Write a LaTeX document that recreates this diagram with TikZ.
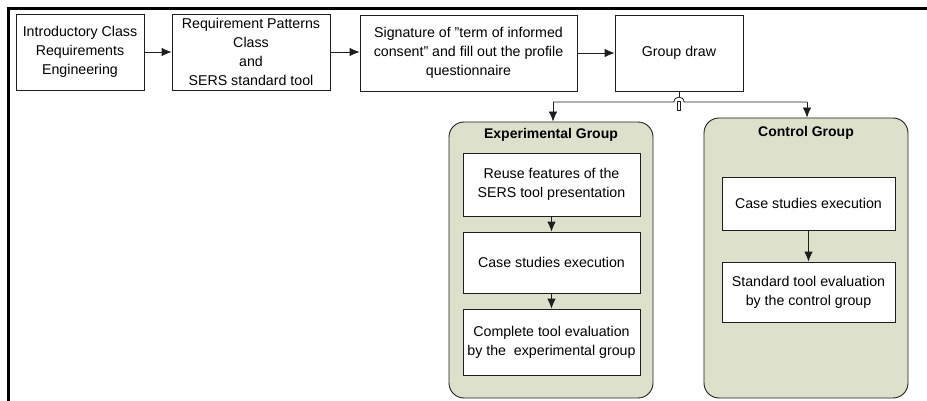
\documentclass[tikz,border=0pt]{standalone}
\usepackage{fontspec}
\setmainfont{Liberation Sans}
\usetikzlibrary{arrows.meta}
\definecolor{grpfill}{RGB}{221,224,203}
\definecolor{edge}{RGB}{30,30,30}
\tikzset{
  pbox/.style={draw=edge, line width=0.8pt, fill=white, rectangle, align=center, inner sep=1pt,
    font=\fontsize{14.2}{19}\selectfont},
  grp/.style={draw=edge, line width=0.9pt, fill=grpfill, rectangle, rounded corners=15pt},
  gtitle/.style={font=\fontsize{14}{17}\selectfont\bfseries, inner sep=0pt},
  arr/.style={draw=edge, line width=0.8pt, -{Latex[length=10pt,width=8.5pt]}},
  conn/.style={draw=edge, line width=0.8pt},
  frame/.style={line width=3pt, black}
}
\begin{document}
\begin{tikzpicture}[x=1pt,y=-1pt]
\useasboundingbox (0,0) rectangle (927,401);
% frame (top and left)
\draw[frame] (8,401) -- (8,9) -- (927,9);
% top row
\node[pbox, minimum width=128pt, minimum height=76pt] (intro) at (80,52) {Introductory Class\\Requirements\\Engineering};
\node[pbox, minimum width=158pt, minimum height=76pt] (patt) at (251,52) {Requirement Patterns\\Class\\and\\SERS standard tool};
\node[pbox, minimum width=217pt, minimum height=76pt] (sig) at (468.5,53) {Signature of \symbol{34}term of informed\\consent\symbol{34} and fill out the profile\\questionnaire};
\node[pbox, minimum width=128pt, minimum height=76pt] (draw) at (679,53) {Group draw};
\draw[arr] (intro.east) -- (intro.east -| patt.west);
\draw[arr] (patt.east) -- (patt.east -| sig.west);
\draw[arr] (sig.east) -- (sig.east -| draw.west);
% groups
\node[grp, minimum width=204pt, minimum height=276pt] (exp) at (551,260) {};
\node[grp, minimum width=204pt, minimum height=280pt] (ctl) at (806,258) {};
\node[gtitle] (expt) at (551,135) {Experimental Group};
\node[gtitle] (ctlt) at (806,133) {Control Group};
% experimental inner
\node[pbox, minimum width=177pt, minimum height=63pt] (e1) at (551.5,184.5) {Reuse features of the\\SERS tool presentation};
\node[pbox, minimum width=177pt, minimum height=61pt] (e2) at (551.5,262.5) {Case studies execution};
\node[pbox, minimum width=177pt, minimum height=66pt] (e3) at (551.5,342) {Complete tool evaluation\\by the~ experimental group};
\draw[arr] (e1.south) -- (e2.north);
\draw[arr] (e2.south) -- (e3.north);
% control inner
\node[pbox, minimum width=173pt, minimum height=53pt] (c1) at (808.5,203.5) {Case studies execution};
\node[pbox, minimum width=173pt, minimum height=60pt] (c2) at (808.5,292) {Standard tool evaluation\\by the control group};
\draw[arr] (c1.south) -- (c2.north);
% split connector with line hop
\coordinate (jl) at (553,102);
\coordinate (jr) at (807,102);
\coordinate (hopl) at (674,102);
\coordinate (hopr) at (684,102);
\coordinate (hopt) at (679,97);
\draw[conn] (draw.south) -- (hopt);
\draw[conn] (jl) -- (hopl) .. controls (674,95.5) and (684,95.5) .. (hopr) -- (jr);
\draw[conn, line width=0.6pt, fill=white] (677.5,101) rectangle (680.5,110.5);
\draw[arr] (jl) -- (jl |- exp.north);
\draw[arr] (jr) -- (jr |- ctl.north);
\end{tikzpicture}
\end{document}
